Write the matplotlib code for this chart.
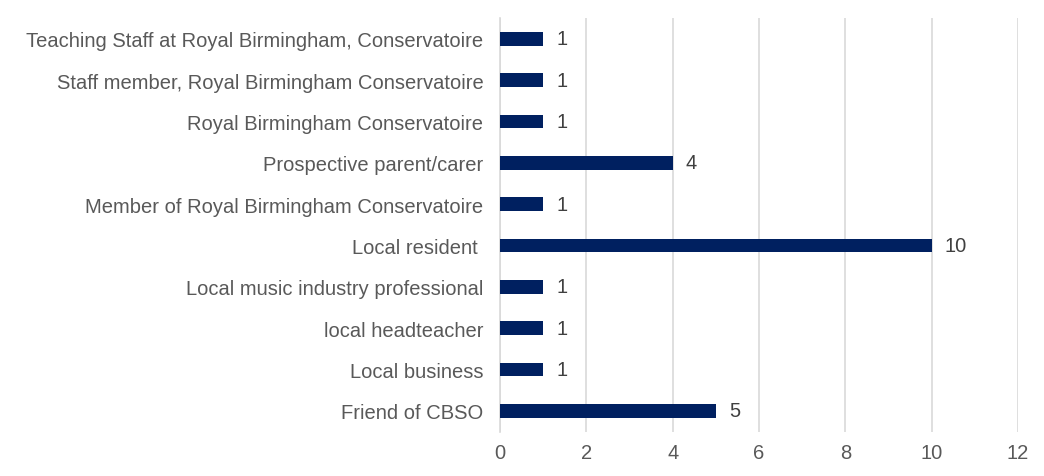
import matplotlib.pyplot as plt

categories = ["Friend of CBSO", "Local business", "local headteacher",
              "Local music industry professional", "Local resident ",
              "Member of Royal Birmingham Conservatoire", "Prospective parent/carer",
              "Royal Birmingham Conservatoire", "Staff member, Royal Birmingham Conservatoire",
              "Teaching Staff at Royal Birmingham, Conservatoire"]
counts = [5, 1, 1, 1, 10, 1, 4, 1, 1, 1]
xticks = [0, 2, 4, 6, 8, 10, 12]

plt.rcParams['font.family'] = ['Liberation Sans', 'DejaVu Sans']

fig = plt.figure(figsize=(10.44, 4.77), dpi=100)
ax = fig.add_axes([0.479, 0.093, 0.496, 0.867])

pos = range(len(categories))
ax.barh(pos, counts, height=0.33, color='#002060', zorder=3)
for p, v in zip(pos, counts):
    ax.text(v + 0.3, p, str(v), va='center', ha='left', fontsize=14.5, color='#404040')

ax.set_xlim(0, 12)
ax.set_ylim(-0.5, len(categories) - 0.5)
ax.set_xticks(xticks)
ax.set_yticks(list(pos))
ax.set_yticklabels(categories)
ax.tick_params(axis='both', length=0, labelsize=14.5, colors='#595959')
ax.tick_params(axis='y', pad=12)
ax.tick_params(axis='x', pad=8)
ax.grid(axis='x', color='#d9d9d9', linewidth=1.2, zorder=0)
for s in ['top', 'right', 'bottom']:
    ax.spines[s].set_visible(False)
ax.spines['left'].set_color('#d9d9d9')
ax.spines['left'].set_linewidth(1.2)

fig.savefig('out.png', dpi=100)
